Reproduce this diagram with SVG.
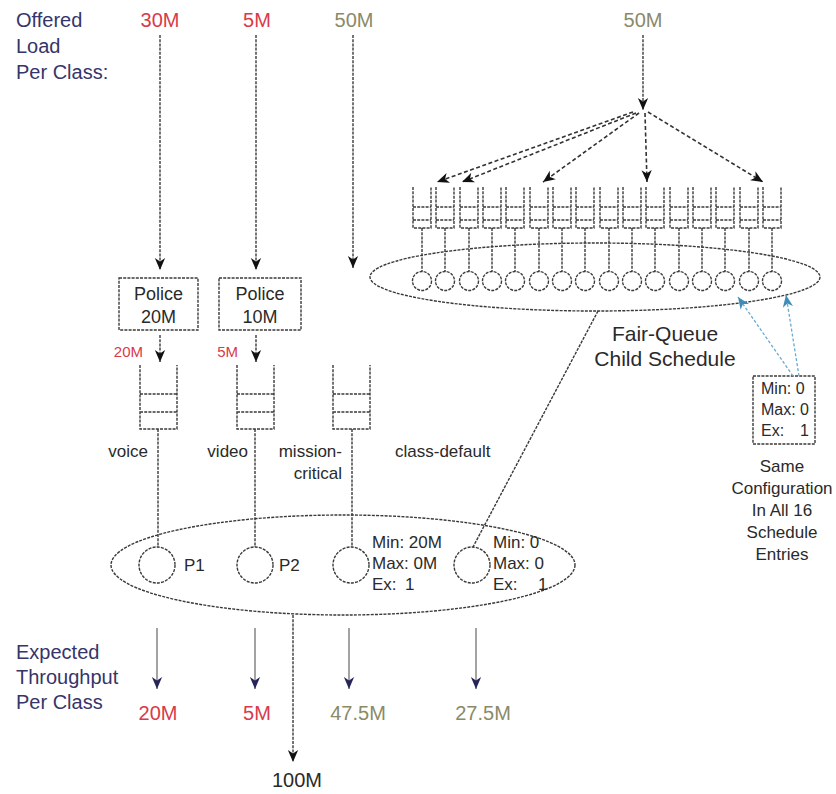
<svg xmlns="http://www.w3.org/2000/svg" width="836" height="794" viewBox="0 0 836 794">
<defs>
<marker id="ah" markerUnits="userSpaceOnUse" markerWidth="12" markerHeight="14" refX="14" refY="6" orient="auto" viewBox="0 0 14 12"><path d="M0,0 L14,6 L0,12 L4,6 z" fill="#111"/></marker>
<marker id="ahn" markerUnits="userSpaceOnUse" markerWidth="12" markerHeight="14" refX="14" refY="6" orient="auto" viewBox="0 0 14 12"><path d="M0,0 L14,6 L0,12 L4,6 z" fill="#25255a"/></marker>
<marker id="ahb" markerUnits="userSpaceOnUse" markerWidth="12" markerHeight="14" refX="14" refY="6" orient="auto" viewBox="0 0 14 12"><path d="M0,0 L14,6 L0,12 L4,6 z" fill="#3e8db8"/></marker>
</defs>
<style>
.ln{stroke:#3a3a3a;stroke-width:1.4;stroke-dasharray:3 1.2;fill:none}
.fl{stroke:#3a3a3a;stroke-width:1.4;stroke-dasharray:3 1.2;fill:#fff}
.dash{stroke:#333;stroke-width:1.6;stroke-dasharray:4 2.5;fill:none}
.blue{stroke:#6aaad0;stroke-width:1.3;stroke-dasharray:3 2;fill:none}
.thr{stroke:#666;stroke-width:1.2;fill:none}
.t{font-family:"Liberation Sans",Arial,Helvetica,sans-serif;fill:#2a2a2a}
.nv{fill:#35356a}
.rd{fill:#d83a4a}
.ol{fill:#8a8a68}
</style>
<rect width="836" height="794" fill="#fff"/>

<g id="labels-top" font-size="20">
<text class="t nv" x="16" y="27">Offered</text>
<text class="t nv" x="16" y="53">Load</text>
<text class="t nv" x="16" y="79">Per Class:</text>
<text class="t rd" x="160" y="27" text-anchor="middle">30M</text>
<text class="t rd" x="257" y="27" text-anchor="middle">5M</text>
<text class="t ol" x="354" y="27" text-anchor="middle">50M</text>
<text class="t ol" x="643" y="27" text-anchor="middle">50M</text>
</g>

<g id="police-20M">
<rect class="ln" x="119" y="278" width="79" height="52"/>
<text class="t" x="158.5" y="300" font-size="18" text-anchor="middle">Police</text>
<text class="t" x="158.5" y="323" font-size="18" text-anchor="middle">20M</text>
</g>
<g id="police-10M">
<rect class="ln" x="219" y="278" width="82" height="52"/>
<text class="t" x="260" y="300" font-size="18" text-anchor="middle">Police</text>
<text class="t" x="260" y="323" font-size="18" text-anchor="middle">10M</text>
</g>
<g id="rate-labels" font-size="15">
<text class="t rd" x="143" y="357" text-anchor="end">20M</text>
<text class="t rd" x="238" y="357" text-anchor="end">5M</text>
</g>

<g id="queue-voice">
<path class="ln" d="M140,365 V429 H177 V365 M140,394 H177 M140,412 H177"/>
<text class="t" x="148" y="457" font-size="17" text-anchor="end">voice</text>
</g>
<g id="queue-video">
<path class="ln" d="M237,365 V429 H274 V365 M237,394 H274 M237,412 H274"/>
<text class="t" x="248" y="457" font-size="17" text-anchor="end">video</text>
</g>
<g id="queue-mission-critical">
<path class="ln" d="M333,365 V429 H370 V365 M333,394 H370 M333,412 H370"/>
<text class="t" x="342" y="457" font-size="17" text-anchor="end">mission-</text>
<text class="t" x="342" y="479" font-size="17" text-anchor="end">critical</text>
</g>
<g id="class-default-label">
<text class="t" x="395" y="457" font-size="17">class-default</text>
</g>

<g id="parent-scheduler">
<ellipse class="ln" cx="343" cy="565" rx="232" ry="50"/>
<circle class="fl" cx="157" cy="565" r="18"/>
<circle class="fl" cx="255" cy="565" r="18"/>
<circle class="fl" cx="351" cy="565" r="18"/>
<circle class="fl" cx="472" cy="565" r="18"/>
<g font-size="17">
<text class="t" x="184" y="571">P1</text>
<text class="t" x="279" y="571">P2</text>
<text class="t" x="372" y="548">Min: 20M</text>
<text class="t" x="372" y="569">Max: 0M</text>
<text class="t" x="372" y="590">Ex:</text><text class="t" x="405" y="590">1</text>
<text class="t" x="493" y="548">Min: 0</text>
<text class="t" x="493" y="569">Max: 0</text>
<text class="t" x="493" y="590">Ex:</text><text class="t" x="538" y="590">1</text>
</g>
</g>

<g id="fair-queue">
<ellipse class="ln" cx="595" cy="277" rx="225" ry="34"/>
<g id="fq-queues">
<path class="ln" d="M413,187V228H431V187M413,207H431M413,220H431M422,228V272"/>
<path class="ln" d="M436,187V228H454V187M436,207H454M436,220H454M445,228V272"/>
<path class="ln" d="M460,187V228H478V187M460,207H478M460,220H478M469,228V272"/>
<path class="ln" d="M483,187V228H501V187M483,207H501M483,220H501M492,228V272"/>
<path class="ln" d="M506,187V228H524V187M506,207H524M506,220H524M515,228V272"/>
<path class="ln" d="M530,187V228H548V187M530,207H548M530,220H548M539,228V272"/>
<path class="ln" d="M553,187V228H571V187M553,207H571M553,220H571M562,228V272"/>
<path class="ln" d="M576,187V228H594V187M576,207H594M576,220H594M585,228V272"/>
<path class="ln" d="M600,187V228H618V187M600,207H618M600,220H618M609,228V272"/>
<path class="ln" d="M623,187V228H641V187M623,207H641M623,220H641M632,228V272"/>
<path class="ln" d="M646,187V228H664V187M646,207H664M646,220H664M655,228V272"/>
<path class="ln" d="M670,187V228H688V187M670,207H688M670,220H688M679,228V272"/>
<path class="ln" d="M693,187V228H711V187M693,207H711M693,220H711M702,228V272"/>
<path class="ln" d="M716,187V228H734V187M716,207H734M716,220H734M725,228V272"/>
<path class="ln" d="M740,187V228H758V187M740,207H758M740,220H758M749,228V272"/>
<path class="ln" d="M763,187V228H781V187M763,207H781M763,220H781M772,228V272"/>
</g>
<g id="fq-circles">
<circle class="fl" cx="422" cy="281" r="9.5"/><circle class="fl" cx="445" cy="281" r="9.5"/>
<circle class="fl" cx="469" cy="281" r="9.5"/><circle class="fl" cx="492" cy="281" r="9.5"/>
<circle class="fl" cx="515" cy="281" r="9.5"/><circle class="fl" cx="539" cy="281" r="9.5"/>
<circle class="fl" cx="562" cy="281" r="9.5"/><circle class="fl" cx="585" cy="281" r="9.5"/>
<circle class="fl" cx="609" cy="281" r="9.5"/><circle class="fl" cx="632" cy="281" r="9.5"/>
<circle class="fl" cx="655" cy="281" r="9.5"/><circle class="fl" cx="679" cy="281" r="9.5"/>
<circle class="fl" cx="702" cy="281" r="9.5"/><circle class="fl" cx="725" cy="281" r="9.5"/>
<circle class="fl" cx="749" cy="281" r="9.5"/><circle class="fl" cx="772" cy="281" r="9.5"/>
</g>
<text class="t" x="665" y="341" font-size="21" text-anchor="middle">Fair-Queue</text>
<text class="t" x="665" y="366" font-size="21" text-anchor="middle">Child Schedule</text>
</g>

<g id="child-config">
<rect class="ln" x="753" y="376" width="62" height="68"/>
<g font-size="16">
<text class="t" x="761" y="394">Min: 0</text>
<text class="t" x="761" y="415">Max: 0</text>
<text class="t" x="761" y="436">Ex:</text><text class="t" x="800" y="436">1</text>
</g>
<g font-size="17" text-anchor="middle">
<text class="t" x="782" y="472">Same</text>
<text class="t" x="782" y="494">Configuration</text>
<text class="t" x="782" y="516">In All 16</text>
<text class="t" x="782" y="538">Schedule</text>
<text class="t" x="782" y="560">Entries</text>
</g>
</g>

<g id="throughput-labels" font-size="20">
<text class="t nv" x="16" y="659">Expected</text>
<text class="t nv" x="16" y="684">Throughput</text>
<text class="t nv" x="16" y="709">Per Class</text>
<text class="t rd" x="158" y="720" text-anchor="middle">20M</text>
<text class="t rd" x="257" y="720" text-anchor="middle">5M</text>
<text class="t ol" x="358" y="720" text-anchor="middle">47.5M</text>
<text class="t ol" x="483" y="720" text-anchor="middle">27.5M</text>
<text class="t" x="297" y="787" text-anchor="middle">100M</text>
</g>

<g id="connectors">
<path class="ln" d="M160,35 V270" marker-end="url(#ah)"/>
<path class="ln" d="M256,35 V270" marker-end="url(#ah)"/>
<path class="ln" d="M353,35 V268" marker-end="url(#ah)"/>
<path class="ln" d="M643,35 V110" marker-end="url(#ah)"/>
<path class="dash" d="M633,112 L437,182" marker-end="url(#ah)"/>
<path class="dash" d="M636,113 L462,182" marker-end="url(#ah)"/>
<path class="dash" d="M639,113 L543,182" marker-end="url(#ah)"/>
<path class="dash" d="M645,113 L647,182" marker-end="url(#ah)"/>
<path class="dash" d="M648,112 L763,182" marker-end="url(#ah)"/>
<path class="ln" d="M160,335 V362" marker-end="url(#ah)"/>
<path class="ln" d="M256,335 V362" marker-end="url(#ah)"/>
<path class="ln" d="M158,429 V547"/>
<path class="ln" d="M255,429 V547"/>
<path class="ln" d="M352,429 V547"/>
<path class="ln" d="M598,311 L473,547"/>
<path class="blue" d="M793,376 L738,297" marker-end="url(#ahb)"/>
<path class="blue" d="M799,376 L786,295" marker-end="url(#ahb)"/>
<path class="thr" d="M157,628 V689" marker-end="url(#ahn)"/>
<path class="thr" d="M255,628 V689" marker-end="url(#ahn)"/>
<path class="thr" d="M349,628 V689" marker-end="url(#ahn)"/>
<path class="thr" d="M476,628 V689" marker-end="url(#ahn)"/>
<path class="ln" d="M293,615 V762" marker-end="url(#ah)"/>
</g>
</svg>
